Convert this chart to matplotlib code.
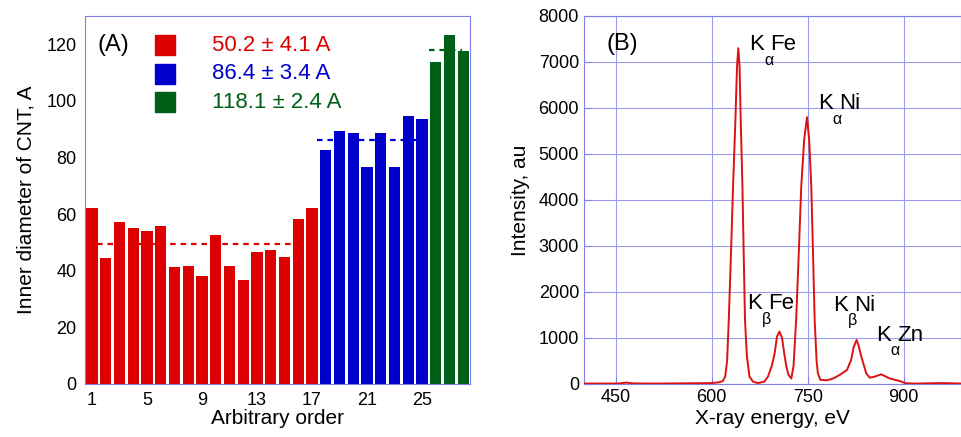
import numpy as np
import matplotlib
matplotlib.use("Agg")
import matplotlib.pyplot as plt

plt.rcParams['font.family'] = ['Liberation Sans', 'DejaVu Sans']

# (A) inner diameters, three groups
red_vals = [62.1, 44.5, 57.1, 55.0, 54.2, 55.9, 41.3, 41.7, 38.3, 52.6,
            41.8, 36.8, 46.8, 47.2, 45.0, 58.3, 62.1]
blue_vals = [82.7, 89.2, 88.5, 76.7, 88.7, 76.7, 94.7, 93.5]
green_vals = [113.6, 123.2, 117.6]
group_labels = ["50.2 ± 4.1 A", "86.4 ± 3.4 A", "118.1 ± 2.4 A"]
x_ticks_a = [1, 5, 9, 13, 17, 21, 25]

# (B) EDX spectrum
energy = [400, 440, 455, 466, 478, 520, 560, 600, 610, 617, 621, 624, 626.6,
          630, 633.3, 637, 639.5, 641.5, 643.5, 645.3, 648, 650, 652, 655,
          659, 664.5, 672, 682, 688, 694, 698.4, 702, 706, 710, 713, 716.7,
          720, 724.5, 728, 732, 736, 740, 744.5, 749, 752.5, 755.7, 758.5,
          761, 764, 766, 770, 780, 790, 800, 811.5, 818, 822, 826.6, 830,
          834, 841.7, 847, 855, 865, 878, 893.7, 904, 920, 960, 990]
intensity = [10, 10, 12, 30, 12, 10, 15, 20, 35, 60, 160, 500, 1390,
             2800, 4290, 5740, 6900, 7300, 6900, 5740, 4290, 2800, 1390, 600,
             160, 50, 20, 50, 160, 400, 667, 1030, 1140, 1000, 700, 377,
             200, 120, 400, 1390, 2800, 4290, 5300, 5800, 5300, 4290, 2800,
             1390, 500, 232, 90, 80, 120, 196, 304, 522, 800, 957, 820,
             594, 232, 138, 160, 210, 123, 65, 15, 10, 20, 10]

# peak labels: (energy, intensity, subscript, element)
peak_x = [659, 766, 656, 790, 857]
peak_y = [7390, 6100, 1760, 1717, 1065]
peak_sub = ["α", "α", "β", "β", "α"]
peak_el = ["Fe", "Ni", "Fe", "Ni", "Zn"]

colors = ['#dd0000', '#0000cc', '#005f17']
spine_col = '#7f7fee'

fig = plt.figure(figsize=(9.62, 4.37), dpi=100)
ax1 = fig.add_axes([0.0884, 0.1213, 0.4002, 0.8421])
ax2 = fig.add_axes([0.607, 0.1213, 0.392, 0.8421])

groups = [red_vals, blue_vals, green_vals]
spans = [(1.4, 16.5), (17.4, 24.6), (25.5, 27.9)]
start = 1
for vals, c, sp in zip(groups, colors, spans):
    xs = np.arange(start, start + len(vals))
    ax1.bar(xs, vals, width=0.82, color=c, zorder=2)
    m = np.mean(vals)
    ax1.plot(sp, [m, m], color=c, lw=1.6, ls=(0, (2.5, 2.2)), zorder=1)
    start += len(vals)

ax1.set_xlim(0.5, 28.5)
ax1.set_ylim(0, 130)
ax1.set_xticks(x_ticks_a)
ax1.set_yticks(range(0, 121, 20))
ax1.tick_params(length=0, labelsize=13, pad=6)
for s in ax1.spines.values():
    s.set_color(spine_col)
ax1.set_xlabel("Arbitrary order", fontsize=15, labelpad=0)
ax1.set_ylabel("Inner diameter of CNT, A", fontsize=15, labelpad=8)
ax1.text(0.032, 0.92, "(A)", transform=ax1.transAxes, fontsize=17, va='center')
for i, (lab, c) in enumerate(zip(group_labels, colors)):
    y = 0.92 - i * 0.077
    ax1.plot([0.2065], [y], 's', ms=15, color=c, transform=ax1.transAxes)
    ax1.text(0.33, y, lab, color=c, fontsize=16, va='center',
             transform=ax1.transAxes)

# spectrum
ax2.plot(energy, intensity, color='#dd1111', lw=1.4, zorder=3)
ax2.set_xlim(400, 990)
ax2.set_ylim(0, 8000)
ax2.set_xticks([450, 600, 750, 900])
ax2.set_yticks(range(0, 8001, 1000))
ax2.grid(True, color='#9a9af0', lw=0.8, zorder=0)
ax2.tick_params(direction='in', length=5, color=spine_col, labelsize=13)
for s in ax2.spines.values():
    s.set_color(spine_col)
ax2.set_xlabel("X-ray energy, eV", fontsize=15, labelpad=2)
ax2.set_ylabel("Intensity, au", fontsize=15, labelpad=6)
ax2.text(435, 7400, "(B)", fontsize=17, va='center')
for ex, iy, sub, el in zip(peak_x, peak_y, peak_sub, peak_el):
    ax2.annotate("K", (ex, iy), fontsize=16, va='center', ha='left', zorder=4)
    ax2.annotate(sub, (ex, iy), xytext=(10.5, -11.5), textcoords='offset points',
                 fontsize=11.5, va='center', ha='left', zorder=4)
    ax2.annotate(el, (ex, iy), xytext=(15, 0), textcoords='offset points',
                 fontsize=16, va='center', ha='left', zorder=4)

fig.savefig("out.png", dpi=100)
